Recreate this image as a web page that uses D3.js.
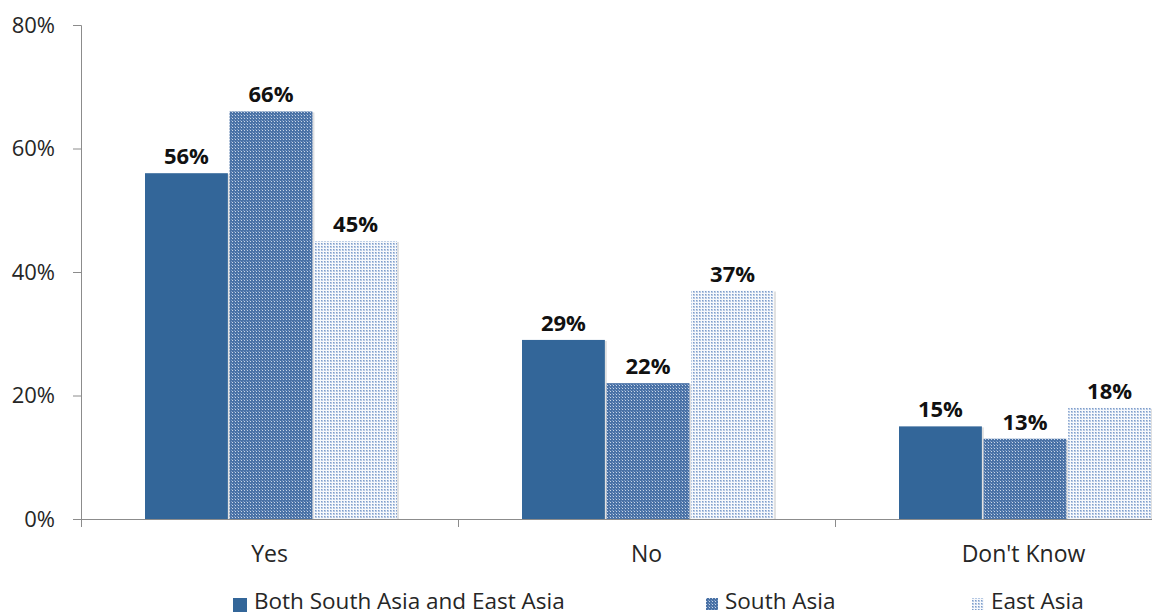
<!DOCTYPE html>
<html><head><meta charset="utf-8">
<script src="https://cdn.jsdelivr.net/npm/d3@7"></script>
<style>
html,body{margin:0;padding:0;background:#fff;overflow:hidden}
text{font-family:"Open Sans","Liberation Sans",sans-serif}
</style></head>
<body><svg id="c" width="1152" height="616"></svg>
<script>
const categories = ["Yes", "No", "Don't Know"];
const seriesNames = ["Both South Asia and East Asia", "South Asia", "East Asia"];
const bothValues = [56, 29, 15];
const southValues = [66, 22, 13];
const eastValues = [45, 37, 18];
const yTicks = [0, 20, 40, 60, 80];

const svg = d3.select("#c");
const defs = svg.append("defs");

// patterns
const p1 = defs.append("pattern").attr("id","pSouth").attr("patternUnits","userSpaceOnUse").attr("width",3).attr("height",3);
p1.append("rect").attr("width",3).attr("height",3).attr("fill","#4a72a6");
p1.append("rect").attr("x",1).attr("y",1).attr("width",1).attr("height",1).attr("fill","#c9d6e8");
p1.append("rect").attr("x",0).attr("y",0).attr("width",1).attr("height",1).attr("fill","#7d9bc6");
const p2 = defs.append("pattern").attr("id","pEast").attr("patternUnits","userSpaceOnUse").attr("width",3).attr("height",3);
p2.append("rect").attr("width",3).attr("height",3).attr("fill","#f7f9fc");
p2.append("rect").attr("x",0).attr("y",0).attr("width",2).attr("height",2).attr("fill","#b6c9e4");
p2.append("rect").attr("x",0).attr("y",0).attr("width",1).attr("height",1).attr("fill","#7f9dc9");

const fills = ["#336699", "url(#pSouth)", "url(#pEast)"];
const series = [bothValues, southValues, eastValues];

const x0 = d3.scaleBand().domain(categories).range([81, 81 + 3*377]).paddingInner(0).paddingOuter(0);
const x1 = d3.scaleBand().domain(d3.range(3)).range([64, 64 + 252]).paddingInner(0.02).paddingOuter(0);
const y = d3.scaleLinear().domain([0, 80]).range([519, 25]);

// y axis
const gy = svg.append("g").attr("transform","translate(81,0)")
  .call(d3.axisLeft(y).tickValues(yTicks).tickFormat(d => d + "%").tickSize(8).tickPadding(18));
gy.select(".domain").attr("stroke","#8c8c8c").attr("d","M-8,25.5H0.5V519.5");
gy.selectAll(".tick line").attr("stroke","#8c8c8c");
gy.selectAll(".tick text").attr("font-size",22).attr("fill","#262626");

// bars
categories.forEach((c, ci) => {
  series.forEach((vals, si) => {
    const bx = x0(c) + x1(si), bw = x1.bandwidth(), by = y(vals[ci]);
    svg.append("rect").attr("x", bx + 2).attr("y", by + 1).attr("width", bw).attr("height", 519 - by - 1)
      .attr("fill", "#d9d9d9").attr("opacity", 0.8);
    svg.append("rect").attr("x", bx).attr("y", by).attr("width", bw).attr("height", 519 - by)
      .attr("fill", fills[si]);
    svg.append("text").attr("x", bx + bw/2).attr("y", by - 9).attr("text-anchor","middle")
      .attr("font-size", 22).attr("font-weight","bold").attr("fill","#111").text(vals[ci] + "%");
  });
});

// x axis
const gx = svg.append("g").attr("transform","translate(0,519)")
  .call(d3.axisBottom(x0).tickSize(0).tickPadding(27));
gx.select(".domain").attr("stroke","#8c8c8c");
gx.selectAll(".tick text").attr("font-size",23).attr("fill","#262626");
[0,1,2,3].forEach(i => {
  svg.append("line").attr("x1",81 + i*377 + 0.5).attr("x2",81 + i*377 + 0.5).attr("y1",519).attr("y2",527).attr("stroke","#8c8c8c");
});

// legend
const legX = [233, 706, 972];
const legSize = [14, 12, 12];
seriesNames.forEach((n, i) => {
  svg.append("rect").attr("x", legX[i]).attr("y", 598).attr("width", legSize[i]).attr("height", legSize[i]).attr("fill", fills[i]);
  svg.append("text").attr("x", legX[i] + legSize[i] + 7).attr("y", 609).attr("font-size", 22.5).attr("fill","#262626").text(n);
});
</script></body></html>
